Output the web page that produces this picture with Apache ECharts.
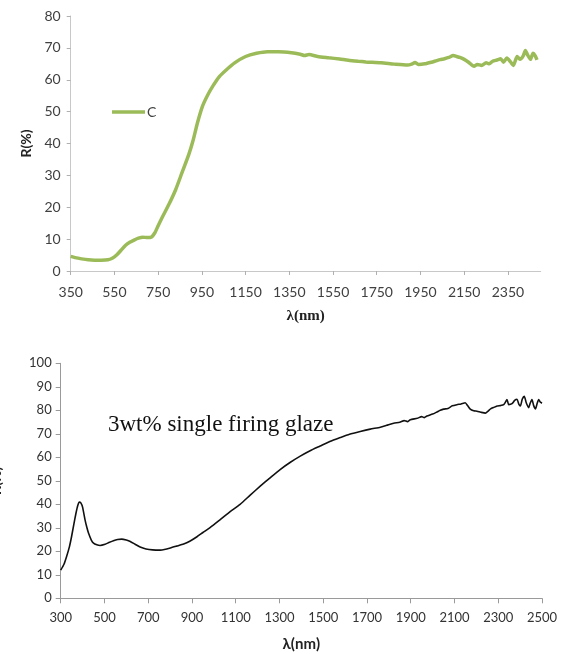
<!DOCTYPE html>
<html>
<head>
<meta charset="utf-8">
<script src="https://cdn.jsdelivr.net/npm/echarts@6/dist/echarts.min.js"></script>
<style>
  html, body { margin: 0; padding: 0; background: #fff; }
  #main { width: 568px; height: 654px; }
</style>
</head>
<body>
<div id="main"></div>
<script>
// top chart: sample C
var topWavelength = [350, 370, 400, 430, 460, 490, 520, 540, 560, 580, 600, 620, 640, 660, 680, 700, 720, 735, 750, 770,
  800, 830, 860, 890, 910, 930, 953, 975, 1000, 1030, 1060, 1100, 1150, 1200, 1250, 1300, 1360, 1400, 1420, 1440,
  1480, 1530, 1580, 1620, 1665, 1700, 1770, 1830, 1890, 1910, 1925, 1940, 1970, 2000, 2020, 2040, 2060, 2080, 2100, 2115,
  2130, 2150, 2170, 2195, 2210, 2230, 2250, 2265, 2280, 2300, 2317, 2330, 2345, 2362, 2375, 2392, 2405, 2420, 2430, 2440,
  2453, 2465, 2475, 2483];
var topReflectance = [4.6, 4.2, 3.8, 3.5, 3.4, 3.4, 3.5, 4.0, 5.0, 6.5, 8.0, 9.0, 9.7, 10.3, 10.6, 10.5, 10.7, 12.0, 14.2, 17.0,
  21.0, 25.5, 31.0, 36.5, 41.0, 46.5, 51.7, 55.0, 58.0, 61.0, 63.0, 65.3, 67.3, 68.3, 68.8, 68.8, 68.5, 68.0, 67.6, 67.9,
  67.3, 66.9, 66.5, 66.1, 65.8, 65.6, 65.3, 64.9, 64.6, 64.9, 65.4, 64.8, 65.0, 65.5, 65.9, 66.3, 66.6, 67.0, 67.6, 67.3,
  67.0, 66.4, 65.5, 64.2, 64.8, 64.5, 65.3, 65.0, 65.8, 66.2, 66.6, 65.5, 66.8, 65.6, 64.5, 67.3, 66.4, 67.5, 69.2, 67.8,
  66.4, 68.3, 67.5, 66.2];
var topTicks = [350, 550, 750, 950, 1150, 1350, 1550, 1750, 1950, 2150, 2350];

// bottom chart: 3wt% single firing glaze
var botWavelength = [300, 315, 327, 340, 350, 360, 370, 378, 385, 392, 400, 411, 420, 427, 440, 450, 465, 480, 503, 520,
  541, 560, 579, 600, 618, 640, 663, 690, 720, 755, 780, 801, 830, 862, 890, 923, 950, 984, 1029, 1076,
  1120, 1165, 1212, 1260, 1303, 1350, 1395, 1440, 1486, 1530, 1578, 1620, 1669, 1715, 1761, 1790, 1822, 1850, 1870, 1885,
  1898, 1930, 1950, 1962, 1974, 2000, 2020, 2035, 2050, 2070, 2090, 2111, 2130, 2149, 2160, 2172, 2188, 2203, 2220, 2241,
  2255, 2265, 2279, 2295, 2310, 2325, 2333, 2340, 2348, 2363, 2375, 2386, 2394, 2401, 2410, 2419, 2428, 2439, 2446, 2454,
  2462, 2470, 2478, 2485, 2492, 2500];
var botReflectance = [12.0, 14.5, 17.8, 22.0, 26.4, 31.5, 36.3, 39.5, 41.0, 40.6, 38.8, 33.5, 30.0, 27.8, 24.8, 23.5, 22.8, 22.5, 23.0, 23.7,
  24.5, 25.0, 25.2, 24.8, 24.2, 23.0, 21.8, 21.0, 20.6, 20.5, 20.9, 21.4, 22.2, 23.1, 24.3, 26.2, 28.0, 30.2, 33.5, 37.0,
  40.0, 43.8, 47.7, 51.5, 54.8, 57.9, 60.5, 62.8, 64.8, 66.7, 68.4, 69.8, 71.0, 72.0, 72.8, 73.6, 74.5, 74.9, 75.6, 75.2,
  76.0, 76.6, 77.3, 76.9, 77.6, 78.4, 79.3, 80.0, 80.5, 80.8, 81.9, 82.4, 82.7, 83.2, 82.0, 80.5, 79.8, 79.6, 79.2, 78.8,
  79.8, 80.6, 81.2, 81.8, 82.0, 82.4, 83.5, 84.6, 82.4, 82.8, 84.2, 84.7, 82.6, 81.8, 84.8, 86.0, 83.2, 81.1, 83.0, 84.6,
  82.0, 80.6, 83.0, 84.6, 83.5, 83.0];
var botTicks = [300, 500, 700, 900, 1100, 1300, 1500, 1700, 1900, 2100, 2300, 2500];

function pairs(xs, ys) {
  return xs.map(function (x, i) { return [x, ys[i]]; });
}
function plain(v) { return String(v); }

var myChart = echarts.init(document.getElementById('main'));

option = {
  animation: false,
  legend: {
    data: [{ name: 'C', icon: 'rect' }],
    left: 107,
    top: 100,
    itemWidth: 33,
    itemHeight: 3.5,
    itemGap: 4,
    textStyle: { fontFamily: 'Lato', fontSize: 14, color: '#404040', padding: [0, 0, 0, -3] }
  },
  grid: [
    { left: 70.7, top: 16, width: 470, height: 255, containLabel: false, outerBoundsMode: 'none' },
    { left: 60.7, top: 363.3, width: 481.3, height: 235, containLabel: false, outerBoundsMode: 'none' }
  ],
  xAxis: [{
    gridIndex: 0,
    type: 'value',
    min: 350,
    max: 2500,
    name: 'λ(nm)',
    nameLocation: 'middle',
    nameGap: 38,
    nameTextStyle: { fontFamily: 'Liberation Serif', fontWeight: 'bold', fontSize: 15, color: '#222' },
    axisLine: { lineStyle: { color: '#c8c8c8', width: 1 } },
    axisTick: { show: true, length: 4, customValues: topTicks, lineStyle: { color: '#b0b0b0' } },
    axisLabel: { customValues: topTicks, formatter: plain, margin: 14, fontFamily: 'Lato', fontSize: 14, color: '#404040' },
    splitLine: { show: false }
  }, {
    gridIndex: 1,
    type: 'value',
    min: 300,
    max: 2500,
    name: 'λ(nm)',
    nameLocation: 'middle',
    nameGap: 38,
    nameTextStyle: { fontFamily: 'Lato', fontWeight: 'bold', fontSize: 15, color: '#222' },
    axisLine: { lineStyle: { color: '#9a9a9a', width: 1 } },
    axisTick: { show: true, length: 5, customValues: botTicks, lineStyle: { color: '#9a9a9a' } },
    axisLabel: { customValues: botTicks, formatter: plain, margin: 13, fontFamily: 'Lato', fontSize: 13, color: '#333' },
    splitLine: { show: false }
  }],
  yAxis: [{
    gridIndex: 0,
    type: 'value',
    min: 0,
    max: 80,
    interval: 10,
    name: 'R(%)',
    nameLocation: 'middle',
    nameGap: 36,
    nameTextStyle: { fontFamily: 'Lato', fontWeight: 'bold', fontSize: 14, color: '#222' },
    axisLine: { show: true, lineStyle: { color: '#c8c8c8' } },
    axisTick: { show: true, length: 4, lineStyle: { color: '#b0b0b0' } },
    axisLabel: { margin: 10, fontFamily: 'Lato', fontSize: 14, color: '#404040' },
    splitLine: { show: false }
  }, {
    gridIndex: 1,
    type: 'value',
    min: 0,
    max: 100,
    interval: 10,
    name: 'R(%)',
    nameLocation: 'middle',
    nameGap: 57,
    nameTextStyle: { fontFamily: 'Lato', fontWeight: 'bold', fontSize: 14, color: '#222' },
    axisLine: { show: true, lineStyle: { color: '#9a9a9a' } },
    axisTick: { show: true, length: 5, lineStyle: { color: '#9a9a9a' } },
    axisLabel: { margin: 9, fontFamily: 'Lato', fontSize: 13, color: '#333' },
    splitLine: { show: false }
  }],
  graphic: [{
    type: 'text',
    left: 108,
    top: 413,
    style: {
      text: '3wt% single firing glaze',
      font: '23px "Liberation Serif"',
      fill: '#111'
    }
  }],
  series: [{
    name: 'C',
    type: 'line',
    xAxisIndex: 0,
    yAxisIndex: 0,
    showSymbol: false,
    symbol: 'none',
    smooth: 0.2,
    itemStyle: { color: '#9bbb59' },
    lineStyle: { color: '#9bbb59', width: 3.5 },
    data: pairs(topWavelength, topReflectance)
  }, {
    name: 'glaze',
    type: 'line',
    xAxisIndex: 1,
    yAxisIndex: 1,
    showSymbol: false,
    symbol: 'none',
    smooth: 0.2,
    itemStyle: { color: '#111' },
    lineStyle: { color: '#111', width: 1.6 },
    data: pairs(botWavelength, botReflectance)
  }]
};

myChart.setOption(option);
</script>
</body>
</html>
